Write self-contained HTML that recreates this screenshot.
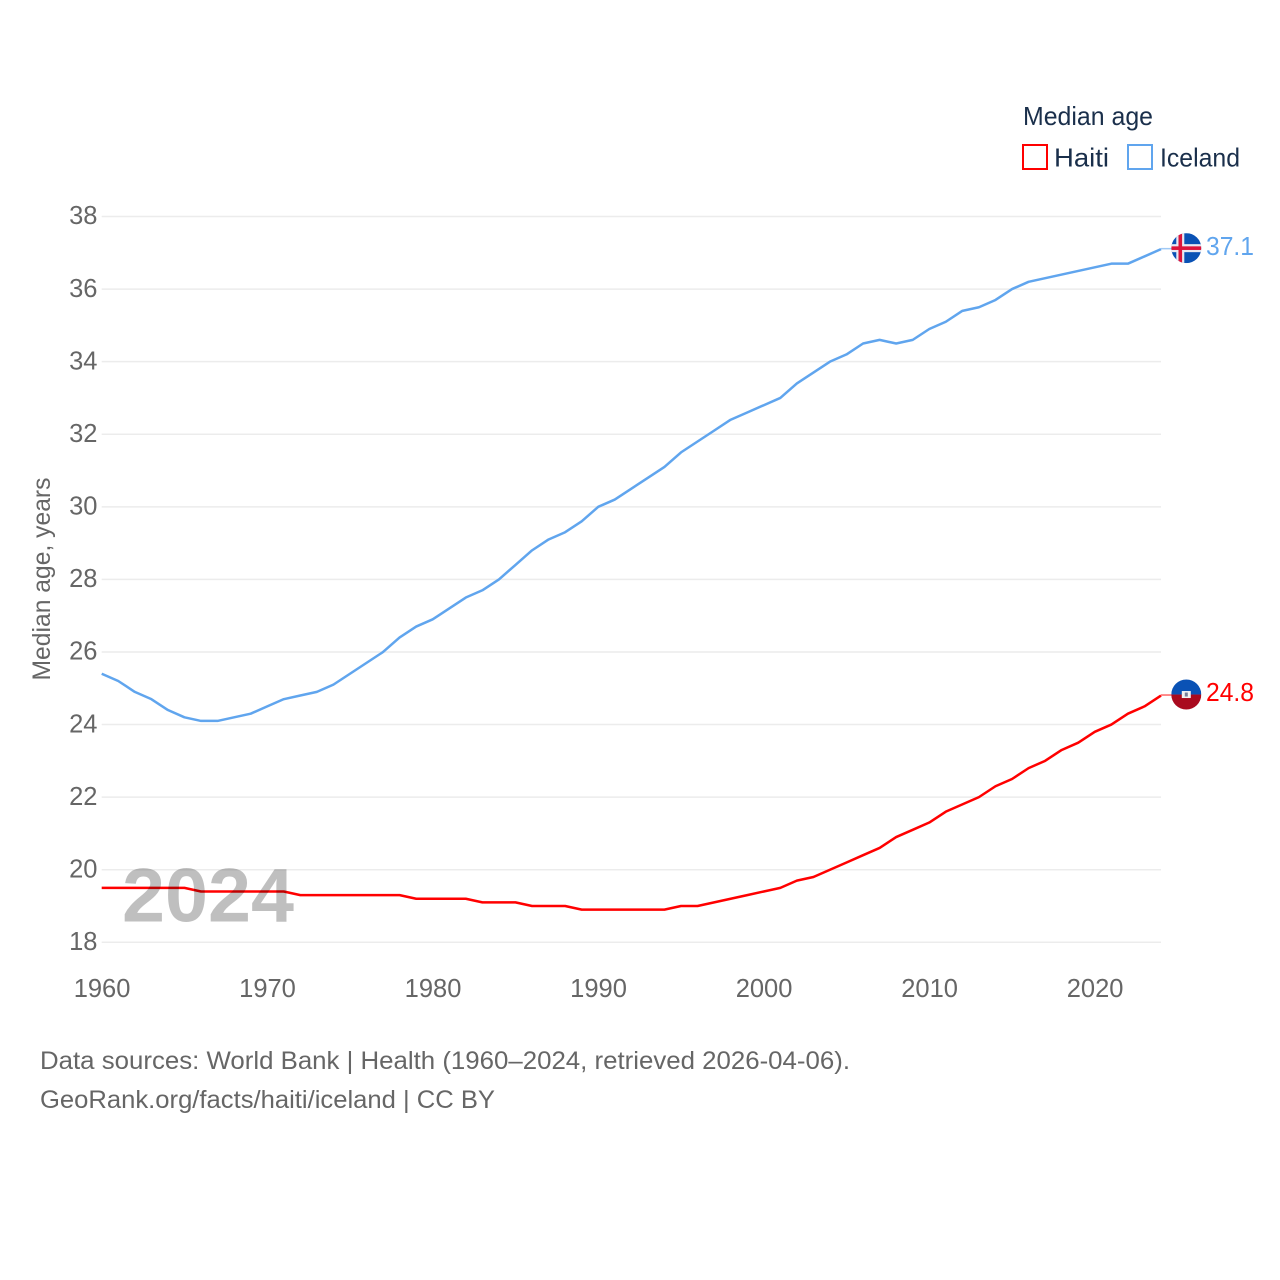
<!DOCTYPE html>
<html lang="en">
<head>
<meta charset="utf-8">
<title>Median age: Haiti and Iceland</title>
<style>
html,body{margin:0;padding:0;background:#fff;}
svg{display:block;font-family:"Liberation Sans",sans-serif;}
</style>
</head>
<body>
<svg id="chart" xmlns="http://www.w3.org/2000/svg" width="1280" height="1280" viewBox="0 0 1280 1280">
  <defs>
    <clipPath id="flag-clip"><circle cx="0" cy="0" r="15"></circle></clipPath>
  </defs>
  <rect x="0" y="0" width="1280" height="1280" fill="#ffffff"></rect>
  <g id="grid"></g>
  <g id="y-ticks"></g>
  <g id="x-ticks"></g>
  <text transform="translate(50,579) rotate(-90)" text-anchor="middle" font-size="25" fill="#666666" textLength="203" lengthAdjust="spacingAndGlyphs">Median age, years</text>
  <g id="series"></g>
  <text x="122" y="921.5" font-size="76" font-weight="700" fill="#000000" fill-opacity="0.25" textLength="172" lengthAdjust="spacingAndGlyphs">2024</text>
  <g id="ends"></g>
  <g>
    <text x="1023" y="125" font-size="26" fill="#1a2f4b" textLength="130" lengthAdjust="spacingAndGlyphs">Median age</text>
    <rect x="1023" y="145" width="24" height="24" fill="none" stroke="#ff0000" stroke-width="2"></rect>
    <text x="1054" y="166.5" font-size="26" fill="#1a2f4b" textLength="55" lengthAdjust="spacingAndGlyphs">Haiti</text>
    <rect x="1128" y="145" width="24" height="24" fill="none" stroke="#60a5ee" stroke-width="2"></rect>
    <text x="1160" y="166.5" font-size="26" fill="#1a2f4b" textLength="80" lengthAdjust="spacingAndGlyphs">Iceland</text>
  </g>
  <text x="40" y="1069" font-size="25" fill="#666666" textLength="810" lengthAdjust="spacingAndGlyphs">Data sources: World Bank | Health (1960–2024, retrieved 2026-04-06).</text>
  <text x="40" y="1108" font-size="25" fill="#666666" textLength="455" lengthAdjust="spacingAndGlyphs">GeoRank.org/facts/haiti/iceland | CC BY</text>
</svg>
<script>
const years = [1960,1961,1962,1963,1964,1965,1966,1967,1968,1969,1970,1971,1972,1973,1974,1975,1976,1977,1978,1979,1980,1981,1982,1983,1984,1985,1986,1987,1988,1989,1990,1991,1992,1993,1994,1995,1996,1997,1998,1999,2000,2001,2002,2003,2004,2005,2006,2007,2008,2009,2010,2011,2012,2013,2014,2015,2016,2017,2018,2019,2020,2021,2022,2023,2024];
const icelandValues = [25.4,25.2,24.9,24.7,24.4,24.2,24.1,24.1,24.2,24.3,24.5,24.7,24.8,24.9,25.1,25.4,25.7,26.0,26.4,26.7,26.9,27.2,27.5,27.7,28.0,28.4,28.8,29.1,29.3,29.6,30.0,30.2,30.5,30.8,31.1,31.5,31.8,32.1,32.4,32.6,32.8,33.0,33.4,33.7,34.0,34.2,34.5,34.6,34.5,34.6,34.9,35.1,35.4,35.5,35.7,36.0,36.2,36.3,36.4,36.5,36.6,36.7,36.7,36.9,37.1];
const haitiValues = [19.5,19.5,19.5,19.5,19.5,19.5,19.4,19.4,19.4,19.4,19.4,19.4,19.3,19.3,19.3,19.3,19.3,19.3,19.3,19.2,19.2,19.2,19.2,19.1,19.1,19.1,19.0,19.0,19.0,18.9,18.9,18.9,18.9,18.9,18.9,19.0,19.0,19.1,19.2,19.3,19.4,19.5,19.7,19.8,20.0,20.2,20.4,20.6,20.9,21.1,21.3,21.6,21.8,22.0,22.3,22.5,22.8,23.0,23.3,23.5,23.8,24.0,24.3,24.5,24.8];
const yTickValues = [18,20,22,24,26,28,30,32,34,36,38];
const xTickValues = [1960,1970,1980,1990,2000,2010,2020];

const NS = 'http://www.w3.org/2000/svg';
function xScale(year) { return 101.7 + (year - 1960) * (1161 - 101.7) / (2024 - 1960); }
function yScale(v) { return 942.3 - (v - 18) * (942.3 - 216.5) / (38 - 18); }
function make(parent, tag, attrs, text) {
  const el = document.createElementNS(NS, tag);
  for (const k in attrs) el.setAttribute(k, attrs[k]);
  if (text !== undefined) el.textContent = text;
  parent.appendChild(el);
  return el;
}

const gridG = document.getElementById('grid');
const yG = document.getElementById('y-ticks');
yTickValues.forEach(function (v) {
  const line = make(gridG, 'line', {x1: 101.7, x2: 1161, y1: yScale(v), y2: yScale(v), stroke: '#ececec', 'stroke-width': 1.5});
  
  
  const label = make(yG, 'text', {x: 97.5, y: yScale(v) + 7.7, 'text-anchor': 'end', 'font-size': 25.5, fill: '#666666'}, String(v));
  
  
});

const xG = document.getElementById('x-ticks');
xTickValues.forEach(function (yr) {
  const label = make(xG, 'text', {x: xScale(yr) + 0.3, y: 997.2, 'text-anchor': 'middle', 'font-size': 25.5, fill: '#666666'}, String(yr));
  if (yr === 1960) label.setAttribute('text-anchor', 'start');
  if (yr === 1960) label.setAttribute('x', xScale(yr) - 28);
  
  
});

const seriesG = document.getElementById('series');
const endsG = document.getElementById('ends');

function drawSeries(name, values, color) {
  const d = values.map(function (v, i) {
    return (i ? 'L' : 'M') + xScale(years[i]).toFixed(2) + ' ' + yScale(v).toFixed(2);
  }).join(' ');
  const path = make(seriesG, 'path', {d: d, fill: 'none', stroke: color, 'stroke-width': 2.5, 'stroke-linejoin': 'round'});
  
  

  const last = values[values.length - 1];
  const ly = yScale(last);
  const connector = make(endsG, 'line', {x1: 1161, x2: 1172, y1: ly - 0.5, y2: ly - 0.5, stroke: color, 'stroke-width': 1.5, 'stroke-opacity': 0.6});
  
  

  const flag = make(endsG, 'g', {transform: 'translate(1186.3,' + (ly - 1).toFixed(2) + ')', 'clip-path': 'url(#flag-clip)'});
  
  
  if (name === 'iceland') {
    make(flag, 'rect', {x: -15, y: -15, width: 30, height: 30, fill: '#0a52b5'});
    make(flag, 'rect', {x: -15, y: -4, width: 30, height: 8, fill: '#e9e9f2'});
    make(flag, 'rect', {x: -10, y: -15, width: 8, height: 30, fill: '#e9e9f2'});
    make(flag, 'rect', {x: -15, y: -1.8, width: 30, height: 3.6, fill: '#dc143c'});
    make(flag, 'rect', {x: -7.8, y: -15, width: 3.6, height: 30, fill: '#dc143c'});
  } else {
    make(flag, 'rect', {x: -15, y: -15, width: 30, height: 15, fill: '#0a52b5'});
    make(flag, 'rect', {x: -15, y: 0, width: 30, height: 15, fill: '#a90a1e'});
    make(flag, 'rect', {x: -4.5, y: -3.5, width: 9, height: 7, fill: '#f2f2f2'});
    make(flag, 'rect', {x: -1.5, y: -2, width: 3, height: 4, fill: '#77809a'});
  }

  const valueLabel = make(endsG, 'text', {x: 1206, y: ly + 5.6, 'font-size': 25.5, fill: color, textLength: 48, lengthAdjust: 'spacingAndGlyphs'}, last.toFixed(1));
  
  
}

drawSeries('iceland', icelandValues, '#60a5ee');
drawSeries('haiti', haitiValues, '#ff0000');
</script>
</body>
</html>
